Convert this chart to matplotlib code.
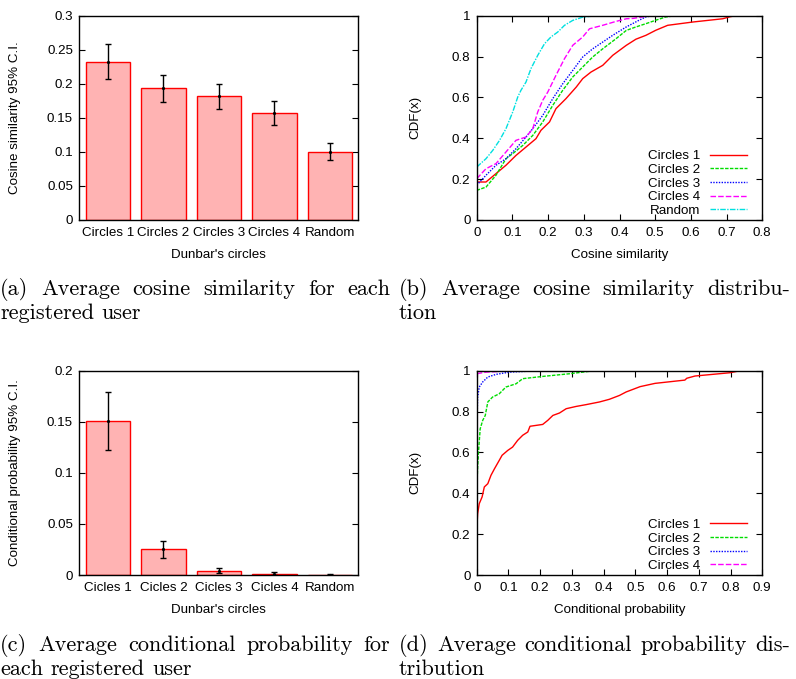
import matplotlib
matplotlib.use('Agg')
import matplotlib.pyplot as plt

W, H = 796, 679
FS = 9.6
plt.rcParams['font.family'] = ['Liberation Sans', 'DejaVu Sans']
plt.rcParams['font.size'] = FS

# ---------------- data ----------------
categories_a = ["Circles 1", "Circles 2", "Circles 3", "Circles 4", "Random"]
cos_mean = [0.2325, 0.1933, 0.1816, 0.1571, 0.1003]
cos_low = [0.2070, 0.1733, 0.1630, 0.1400, 0.0876]
cos_high = [0.2580, 0.2124, 0.2002, 0.1742, 0.1126]

categories_c = ["Cicles 1", "Cicles 2", "Cicles 3", "Cicles 4", "Random"]
cp_mean = [0.1511, 0.0251, 0.0042, 0.0013, 0.0003]
cp_low = [0.1227, 0.0166, 0.0016, 0.0000, 0.0001]
cp_high = [0.1794, 0.0333, 0.0072, 0.0029, 0.0005]

yticks_a = [0, 0.05, 0.1, 0.15, 0.2, 0.25, 0.3]
yticks_c = [0, 0.05, 0.1, 0.15, 0.2]
xticks_b = [0, 0.1, 0.2, 0.3, 0.4, 0.5, 0.6, 0.7, 0.8]
xticks_d = [0, 0.1, 0.2, 0.3, 0.4, 0.5, 0.6, 0.7, 0.8, 0.9]
yticks_cdf = [0, 0.2, 0.4, 0.6, 0.8, 1]

# (b) cosine similarity CDFs
b_c1_x = [0, 0.026, 0.054, 0.082, 0.11, 0.138, 0.166, 0.18, 0.204, 0.222, 0.25, 0.279, 0.297, 0.32,
          0.353, 0.381, 0.419, 0.446, 0.474, 0.502, 0.535, 0.605, 0.689, 0.71, 0.726, 0.75]
b_c1_y = [0.186, 0.186, 0.227, 0.268, 0.316, 0.357, 0.398, 0.439, 0.48, 0.545, 0.594, 0.651, 0.692, 0.724,
          0.757, 0.806, 0.855, 0.885, 0.904, 0.929, 0.953, 0.969, 0.985, 0.995, 1.0, 1.0]
b_c2_x = [0, 0.026, 0.054, 0.082, 0.101, 0.129, 0.157, 0.185, 0.213, 0.241, 0.269, 0.297, 0.325,
          0.353, 0.39, 0.419, 0.446, 0.474, 0.502, 0.53, 0.558, 0.59]
b_c2_y = [0.145, 0.161, 0.219, 0.30, 0.325, 0.365, 0.414, 0.48, 0.561, 0.635, 0.70, 0.749, 0.798,
          0.838, 0.887, 0.928, 0.945, 0.961, 0.978, 0.994, 1.0, 1.0]
b_c3_x = [0, 0.026, 0.054, 0.082, 0.11, 0.138, 0.157, 0.185, 0.213, 0.241, 0.269, 0.297, 0.325,
          0.353, 0.381, 0.419, 0.455, 0.474, 0.493, 0.52]
b_c3_y = [0.17, 0.219, 0.268, 0.30, 0.349, 0.406, 0.447, 0.512, 0.594, 0.667, 0.732, 0.798, 0.838,
          0.871, 0.904, 0.945, 0.978, 0.994, 1.0, 1.0]
b_c4_x = [0, 0.026, 0.054, 0.082, 0.11, 0.138, 0.157, 0.171, 0.185, 0.199, 0.222, 0.246, 0.269,
          0.297, 0.316, 0.353, 0.39, 0.419, 0.439, 0.486, 0.52]
b_c4_y = [0.202, 0.251, 0.276, 0.333, 0.39, 0.406, 0.447, 0.529, 0.586, 0.626, 0.708, 0.79, 0.855,
          0.896, 0.936, 0.953, 0.972, 0.985, 0.987, 1.0, 1.0]
b_rnd_x = [0, 0.026, 0.045, 0.064, 0.082, 0.101, 0.115, 0.124, 0.138, 0.152, 0.171, 0.19, 0.208,
           0.227, 0.246, 0.269, 0.297, 0.325, 0.42, 0.45]
b_rnd_y = [0.259, 0.30, 0.341, 0.39, 0.447, 0.529, 0.602, 0.635, 0.675, 0.741, 0.806, 0.863, 0.896,
           0.92, 0.953, 0.977, 0.993, 0.998, 1.0, 1.0]

# (d) conditional probability CDFs
d_c1_x = [0, 0.003, 0.008, 0.017, 0.024, 0.035, 0.045, 0.056, 0.071, 0.08, 0.098, 0.113, 0.129,
          0.145, 0.161, 0.168, 0.208, 0.224, 0.24, 0.261, 0.282, 0.313, 0.345, 0.387, 0.418, 0.45,
          0.471, 0.515, 0.562, 0.656, 0.662, 0.688, 0.798, 0.83, 0.85]
d_c1_y = [0.219, 0.30, 0.349, 0.382, 0.431, 0.447, 0.488, 0.52, 0.561, 0.586, 0.61, 0.626, 0.659,
          0.684, 0.70, 0.728, 0.737, 0.757, 0.781, 0.793, 0.814, 0.825, 0.834, 0.847, 0.86, 0.879,
          0.896, 0.922, 0.938, 0.954, 0.963, 0.974, 0.99, 1.0, 1.0]
d_c2_x = [0, 0.003, 0.006, 0.011, 0.019, 0.027, 0.035, 0.05, 0.071, 0.092, 0.124, 0.145, 0.208,
          0.292, 0.371, 0.38]
d_c2_y = [0.398, 0.529, 0.61, 0.716, 0.757, 0.781, 0.847, 0.871, 0.887, 0.92, 0.936, 0.961, 0.972,
          0.985, 1.0, 1.0]
d_c3_x = [0, 0.003, 0.008, 0.019, 0.035, 0.061, 0.103, 0.197, 0.21]
d_c3_y = [0.69, 0.871, 0.92, 0.945, 0.969, 0.982, 0.993, 1.0, 1.0]
d_c4_x = [0, 0.029, 0.092, 0.10, 0.11]
d_c4_y = [0.985, 0.993, 0.998, 1.0, 1.0]

series_b = [("Circles 1", b_c1_x, b_c1_y), ("Circles 2", b_c2_x, b_c2_y),
            ("Circles 3", b_c3_x, b_c3_y), ("Circles 4", b_c4_x, b_c4_y),
            ("Random", b_rnd_x, b_rnd_y)]
series_d = [("Circles 1", d_c1_x, d_c1_y), ("Circles 2", d_c2_x, d_c2_y),
            ("Circles 3", d_c3_x, d_c3_y), ("Circles 4", d_c4_x, d_c4_y)]

line_styles = {
    "Circles 1": dict(color='#ff0000', linestyle='-'),
    "Circles 2": dict(color='#00dd00', linestyle=(0, (2.5, 1))),
    "Circles 3": dict(color='#0000ff', linestyle=(0, (1, 1))),
    "Circles 4": dict(color='#ff00ff', linestyle=(0, (4, 1.5))),
    "Random": dict(color='#00e0e0', linestyle=(0, (4, 1, 1, 1))),
}

# ---------------- figure ----------------
fig = plt.figure(figsize=(W / 100, H / 100), dpi=100)


def px_axes(l, t, r, b):
    return fig.add_axes([l / W, 1 - b / H, (r - l) / W, (b - t) / H])


def style(ax):
    for s in ax.spines.values():
        s.set_linewidth(1.0)
        s.set_color('black')
    ax.tick_params(direction='in', length=4, width=0.8, top=True, right=True,
                   labelsize=FS, colors='black')
    ax.tick_params(axis='y', pad=4.5)
    ax.tick_params(axis='x', pad=5)


def fmt(v):
    return '%g' % v


def bar_panel(ax, cats, mean, low, high, yticks, ylabel):
    x = list(range(len(cats)))
    ax.bar(x, mean, width=0.8, color='#ffb3b3', edgecolor='#ff0000', linewidth=1.0, zorder=2)
    yerr = [[m - l for m, l in zip(mean, low)], [h - m for m, h in zip(mean, high)]]
    ax.errorbar(x, mean, yerr=yerr, fmt='.', color='black', ms=2.5, capsize=2.5,
                elinewidth=1.0, capthick=1.0, zorder=3)
    ax.set_xlim(-0.517, 4.51)
    ax.set_ylim(yticks[0], yticks[-1])
    style(ax)
    ax.tick_params(axis='x', length=0, top=False)
    ax.set_xticks(x)
    ax.set_xticklabels(cats)
    ax.set_yticks(yticks)
    ax.set_yticklabels([fmt(v) for v in yticks])
    ax.set_ylabel(ylabel, fontsize=FS)
    ax.set_xlabel("Dunbar's circles", fontsize=FS)
    ax.yaxis.set_label_coords(-0.209, 0.5)
    ax.xaxis.set_label_coords(0.5, -0.142)


def cdf_panel(ax, series, xticks, xlabel):
    for name, xs, ys in series:
        ax.plot(xs, ys, label=name, linewidth=1.0, **line_styles[name])
    ax.set_xlim(xticks[0], xticks[-1])
    ax.set_ylim(0, 1)
    style(ax)
    ax.set_xticks(xticks)
    ax.set_xticklabels([fmt(v) for v in xticks])
    ax.set_yticks(yticks_cdf)
    ax.set_yticklabels([fmt(v) for v in yticks_cdf])
    ax.set_ylabel("CDF(x)", fontsize=FS)
    ax.set_xlabel(xlabel, fontsize=FS)
    ax.yaxis.set_label_coords(-0.1926, 0.5)
    ax.xaxis.set_label_coords(0.5, -0.142)
    ax.legend(loc='lower right', bbox_to_anchor=(0.946, 0.015), markerfirst=False,
              frameon=False, handlelength=2.75, handletextpad=0.75, labelspacing=0.1,
              borderaxespad=0, borderpad=0, fontsize=FS)


ax_a = px_axes(79.3, 15.7, 358.3, 220)
bar_panel(ax_a, categories_a, cos_mean, cos_low, cos_high, yticks_a,
          "Cosine similarity 95% C.I.")
ax_b = px_axes(476.7, 15.7, 762.3, 220)
cdf_panel(ax_b, series_b, xticks_b, "Cosine similarity")
ax_c = px_axes(79.3, 370.7, 358.3, 575)
bar_panel(ax_c, categories_c, cp_mean, cp_low, cp_high, yticks_c,
          "Conditional probability 95% C.I.")
ax_d = px_axes(476.7, 370.7, 762.3, 575)
cdf_panel(ax_d, series_d, xticks_d, "Conditional probability")

# ---------------- captions (justified, word by word) ----------------
CAP_FS = 16
CAP_FAMILY = ['cmr10', 'DejaVu Serif']
fig.canvas.draw()
renderer = fig.canvas.get_renderer()


def caption_line(words, x0, yb, x1=None):
    ts = [fig.text(0, 1 - yb / H, w, fontsize=CAP_FS, family=CAP_FAMILY, va='baseline', ha='left')
          for w in words]
    widths = [t.get_window_extent(renderer).width for t in ts]
    if x1 is None or len(words) == 1:
        gap = CAP_FS * 100 / 72 * 0.333
    else:
        gap = (x1 - x0 - sum(widths)) / (len(words) - 1)
    x = x0
    for t, w in zip(ts, widths):
        t.set_x(x / W)
        x += w + gap


caption_line(["(a)", "Average", "cosine", "similarity", "for", "each"], 0, 295, 390)
caption_line(["registered", "user"], 0, 319)
caption_line(["(b)", "Average", "cosine", "similarity", "distribu-"], 399, 295, 790)
caption_line(["tion"], 399, 319)
caption_line(["(c)", "Average", "conditional", "probability", "for"], 0, 651, 390)
caption_line(["each", "registered", "user"], 0, 675)
caption_line(["(d)", "Average", "conditional", "probability", "dis-"], 399, 651, 790)
caption_line(["tribution"], 399, 675)

fig.savefig('out.png', dpi=100)
